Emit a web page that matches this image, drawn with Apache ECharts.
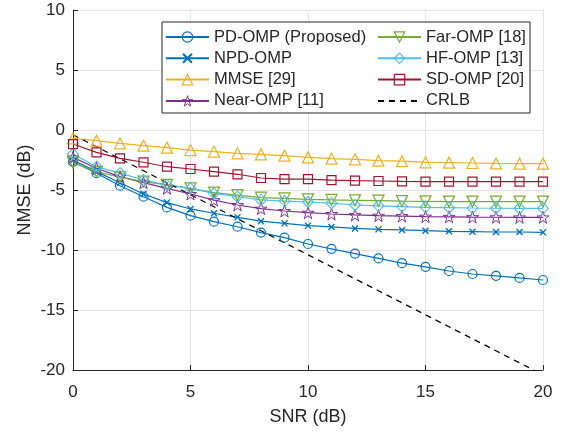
<!DOCTYPE html>
<html>
<head>
<meta charset="utf-8">
<script src="https://cdn.jsdelivr.net/npm/echarts@6/dist/echarts.min.js"></script>
<style>
  html, body { margin: 0; padding: 0; background: #fff; }
  #chart { width: 567px; height: 432px; }
</style>
</head>
<body>
<div id="chart"></div>
<script>
// SNR (dB) 取值
const snr = [0, 1, 2, 3, 4, 5, 6, 7, 8, 9, 10, 11, 12, 13, 14, 15, 16, 17, 18, 19, 20];

// 各算法 NMSE (dB)
const pdOmp = [-2.65, -3.6, -4.64, -5.56, -6.45, -7.14, -7.64, -8.06, -8.55, -8.97, -9.5, -9.9, -10.3, -10.7, -11.1, -11.4, -11.75, -12.0, -12.15, -12.33, -12.5];
const npdOmp = [-2.5, -3.47, -4.4, -5.33, -6.05, -6.58, -6.94, -7.28, -7.6, -7.78, -7.97, -8.08, -8.2, -8.28, -8.33, -8.39, -8.44, -8.47, -8.5, -8.5, -8.53];
const mmse = [-0.7, -0.89, -1.11, -1.31, -1.47, -1.67, -1.8, -1.94, -2.03, -2.14, -2.28, -2.39, -2.44, -2.56, -2.6, -2.69, -2.72, -2.75, -2.78, -2.8, -2.8];
const nearOmp = [-2.28, -3.19, -3.89, -4.39, -4.86, -5.33, -5.85, -6.25, -6.55, -6.75, -6.89, -7.0, -7.08, -7.14, -7.17, -7.22, -7.24, -7.26, -7.27, -7.28, -7.28];
const farOmp = [-2.72, -3.47, -3.94, -4.3, -4.58, -4.86, -5.22, -5.42, -5.64, -5.7, -5.78, -5.83, -5.86, -5.89, -5.92, -5.94, -5.97, -5.97, -5.97, -5.97, -5.97];
const hfOmp = [-2.0, -3.06, -3.6, -4.17, -4.58, -4.86, -5.28, -5.56, -5.83, -5.92, -6.0, -6.1, -6.25, -6.32, -6.38, -6.44, -6.47, -6.5, -6.52, -6.53, -6.53];
const sdOmp = [-1.17, -1.86, -2.36, -2.69, -3.06, -3.25, -3.47, -3.69, -4.0, -4.1, -4.1, -4.17, -4.22, -4.25, -4.28, -4.3, -4.3, -4.3, -4.3, -4.3, -4.3];
const crlb = [-0.4, -1.4, -2.4, -3.4, -4.4, -5.4, -6.4, -7.4, -8.4, -9.4, -10.4, -11.4, -12.4, -13.4, -14.4, -15.4, -16.4, -17.4, -18.4, -19.4, -20.4];

// 坐标轴刻度
const xTicks = [0, 5, 10, 15, 20];
const yTicks = [-20, -15, -10, -5, 0, 5, 10];

const FONT = 'Liberation Sans, Arial, sans-serif';
const AXIS_COLOR = '#262626';
const GRID_COLOR = '#e3e3e3';
const CLEAR = 'rgba(255,255,255,0)';

const STAR = 'path://M50,2 L61,36 L97,36 L68,57 L79,92 L50,71 L21,92 L32,57 L3,36 L39,36 Z';
const CROSS = 'path://M0,1.4 L1.4,0 L5,3.6 L8.6,0 L10,1.4 L6.4,5 L10,8.6 L8.6,10 L5,6.4 L1.4,10 L0,8.6 L3.6,5 Z';

// 每条曲线的样式
const styles = {
  'PD-OMP (Proposed)': { color: '#0072BD', symbol: 'circle', size: 9, bw: 1.2 },
  'NPD-OMP': { color: '#0072BD', symbol: CROSS, size: 7, bw: 0, filled: true },
  'MMSE [29]': { color: '#EDB120', symbol: 'triangle', size: 11, bw: 1.2 },
  'Near-OMP [11]': { color: '#7E2F8E', symbol: STAR, size: 12, bw: 1 },
  'Far-OMP [18]': { color: '#77AC30', symbol: 'triangle', size: 11, bw: 1.2, rotate: 180 },
  'HF-OMP [13]': { color: '#4DBEEE', symbol: 'diamond', size: 11, bw: 1.1 },
  'SD-OMP [20]': { color: '#A2142F', symbol: 'rect', size: 9, bw: 1.2 },
  'CRLB': { color: '#000', symbol: 'none', hidden: true },
};

function pairs(ys) {
  return snr.map((x, i) => [x, ys[i]]);
}

function markerStyle(name) {
  const st = styles[name];
  if (st.hidden) return { color: CLEAR, borderColor: CLEAR, borderWidth: 0 };
  return st.filled
    ? { color: st.color, borderWidth: 0 }
    : { color: CLEAR, borderColor: st.color, borderWidth: st.bw };
}

function lineSeries(name, ys) {
  const st = styles[name];
  return {
    name: name,
    type: 'line',
    data: pairs(ys),
    symbol: st.symbol,
    symbolSize: st.size,
    symbolRotate: st.rotate || 0,
    showAllSymbol: true,
    lineStyle: { width: 1.2, color: st.color },
    itemStyle: markerStyle(name),
    emphasis: { disabled: true },
  };
}

function legendColumn(names, left) {
  return {
    data: names.map(n => ({ name: n, itemStyle: markerStyle(n) })),
    orient: 'vertical',
    left: left,
    top: 28.5,
    padding: 0,
    itemGap: 4.3,
    itemWidth: 43,
    itemHeight: 13,
    selectedMode: false,
    textStyle: { fontFamily: FONT, fontSize: 16.5, color: AXIS_COLOR },
    z: 10,
  };
}

const chart = echarts.init(document.getElementById('chart'));

const crlbSeries = lineSeries('CRLB', crlb);
crlbSeries.clip = true;
crlbSeries.lineStyle = { width: 1.2, color: '#000', type: [6, 5] };

chart.setOption({
  backgroundColor: '#fff',
  animation: false,
  grid: { left: 73, right: 24, top: 10, bottom: 62, outerBoundsMode: 'none', containLabel: false },
  xAxis: {
    type: 'value',
    min: xTicks[0],
    max: xTicks[xTicks.length - 1],
    interval: 5,
    name: 'SNR (dB)',
    nameLocation: 'middle',
    nameGap: 38,
    nameMoveOverlap: false,
    nameTextStyle: { fontFamily: FONT, fontSize: 18, color: AXIS_COLOR },
    axisLine: { onZero: false, lineStyle: { color: AXIS_COLOR, width: 1 } },
    axisTick: { inside: true, length: 5, lineStyle: { color: AXIS_COLOR } },
    axisLabel: { fontFamily: FONT, fontSize: 17, color: AXIS_COLOR, margin: 14 },
    splitLine: { show: true, lineStyle: { color: GRID_COLOR, width: 1 } },
  },
  yAxis: {
    type: 'value',
    min: yTicks[0],
    max: yTicks[yTicks.length - 1],
    interval: 5,
    name: 'NMSE (dB)',
    nameLocation: 'middle',
    nameGap: 39,
    nameMoveOverlap: false,
    nameTextStyle: { fontFamily: FONT, fontSize: 18, color: AXIS_COLOR },
    axisLine: { show: true, onZero: false, lineStyle: { color: AXIS_COLOR, width: 1 } },
    axisTick: { show: true, inside: true, length: 5, lineStyle: { color: AXIS_COLOR } },
    axisLabel: { fontFamily: FONT, fontSize: 17, color: AXIS_COLOR, margin: 8 },
    splitLine: { show: true, lineStyle: { color: GRID_COLOR, width: 1 } },
  },
  legend: [
    legendColumn(['PD-OMP (Proposed)', 'NPD-OMP', 'MMSE [29]', 'Near-OMP [11]'], 165),
    legendColumn(['Far-OMP [18]', 'HF-OMP [13]', 'SD-OMP [20]', 'CRLB'], 377),
  ],
  graphic: [
    {
      type: 'rect',
      shape: { x: 162, y: 22, width: 368, height: 91 },
      style: { fill: '#fff', stroke: AXIS_COLOR, lineWidth: 1 },
      z: 5,
      silent: true,
    },
  ],
  series: [
    lineSeries('PD-OMP (Proposed)', pdOmp),
    lineSeries('NPD-OMP', npdOmp),
    lineSeries('MMSE [29]', mmse),
    lineSeries('Near-OMP [11]', nearOmp),
    lineSeries('Far-OMP [18]', farOmp),
    lineSeries('HF-OMP [13]', hfOmp),
    lineSeries('SD-OMP [20]', sdOmp),
    crlbSeries,
  ],
});
</script>
</body>
</html>
